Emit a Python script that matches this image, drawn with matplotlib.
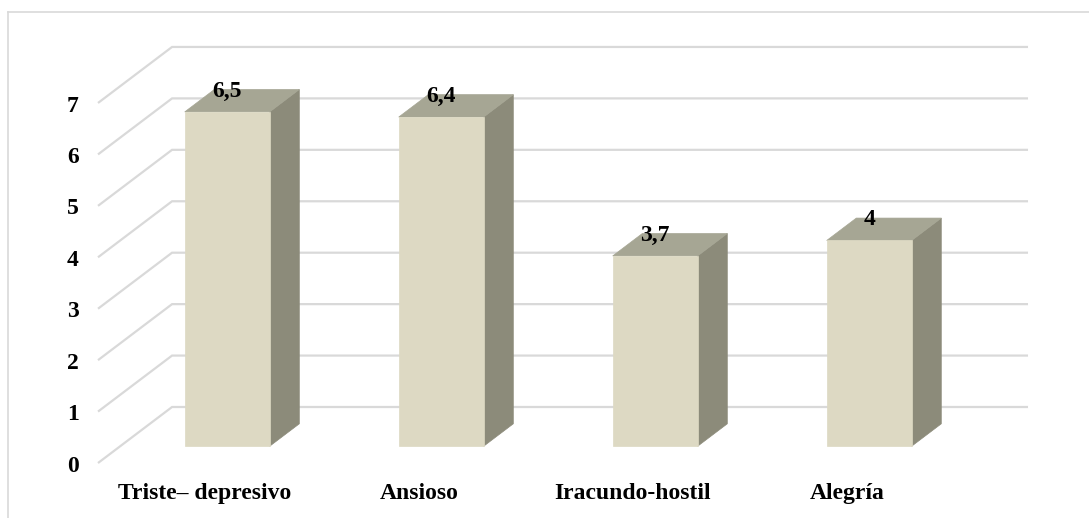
import matplotlib
matplotlib.use("Agg")
import matplotlib.pyplot as plt
from matplotlib.patches import Polygon
from matplotlib.lines import Line2D

# Data
categories = ["Triste\u2013 depresivo", "Ansioso", "Iracundo-hostil", "Alegría"]
values = [6.5, 6.4, 3.7, 4.0]
value_labels = ["6,5", "6,4", "3,7", "4"]
y_ticks = [0, 1, 2, 3, 4, 5, 6, 7]

# Oblique 3-D projection: depth d runs from 0 (front) to 1 (back wall)
DEPTH_DX = 0.346   # shift in category units for full depth
DEPTH_DY = 1.089   # shift in value units for full depth


def proj(x, y, d):
    return x + d * DEPTH_DX, y + d * DEPTH_DY


BAR_W = 0.397
BAR_FRONT, BAR_BACK = 0.30, 0.70

FRONT_C = "#ddd9c3"
TOP_C = "#a6a694"
SIDE_C = "#8c8b7a"
GRID_C = "#d9d9d9"

FONT = dict(family="Liberation Serif", fontweight="bold", fontsize=17, color="black")

fig = plt.figure(figsize=(10.89, 5.18), dpi=100)
fig.patch.set_facecolor("white")
ax = fig.add_axes([0, 0, 1, 1])
ax.set_xlim(-0.458, 4.631)
ax.set_ylim(-1.069, 9.002)
ax.axis("off")

n = len(categories)

# Walls: gridlines on the back wall and the left side wall
for t in y_ticks:
    bx0, by0 = proj(0, t, 1)
    bx1, by1 = proj(n, t, 1)
    fx, fy = proj(0, t, 0)
    ax.plot([fx, bx0, bx1], [fy, by0, by1], color=GRID_C, lw=1.6,
            zorder=1, solid_joinstyle="miter", solid_capstyle="butt")
    ax.text(-0.117, t - 0.06, str(t), ha="center", va="center", zorder=5, **FONT)

# Bars
for i, v in enumerate(values):
    xc = i + 0.5
    xl, xr = xc - BAR_W / 2, xc + BAR_W / 2
    front = [proj(xl, 0, BAR_FRONT), proj(xr, 0, BAR_FRONT),
             proj(xr, v, BAR_FRONT), proj(xl, v, BAR_FRONT)]
    side = [proj(xr, 0, BAR_FRONT), proj(xr, 0, BAR_BACK),
            proj(xr, v, BAR_BACK), proj(xr, v, BAR_FRONT)]
    top = [proj(xl, v, BAR_FRONT), proj(xr, v, BAR_FRONT),
           proj(xr, v, BAR_BACK), proj(xl, v, BAR_BACK)]
    for poly, col in ((side, SIDE_C), (top, TOP_C), (front, FRONT_C)):
        ax.add_patch(Polygon(poly, closed=True, facecolor=col,
                             edgecolor=col, lw=0.5, zorder=3))
    lx = proj(xc, v, BAR_FRONT)[0]
    ly = proj(xc, v, BAR_BACK)[1] - 0.03
    ax.text(lx, ly, value_labels[i], ha="center", va="center", zorder=6, **FONT)

# Category labels along the front edge of the floor
for i, name in enumerate(categories):
    cx, cy = proj(i + 0.5, -0.60, 0)
    ax.text(cx, cy, name, ha="center", va="center", zorder=5, **FONT)

# Chart area border
W, H = 1089, 518
fig.add_artist(Line2D([8 / W, 1.0], [1 - 12 / H, 1 - 12 / H],
                      transform=fig.transFigure, color=GRID_C, lw=1.2))
fig.add_artist(Line2D([8 / W, 8 / W], [0.0, 1 - 12 / H],
                      transform=fig.transFigure, color=GRID_C, lw=1.2))

fig.savefig("out.png", dpi=100, facecolor="white")
